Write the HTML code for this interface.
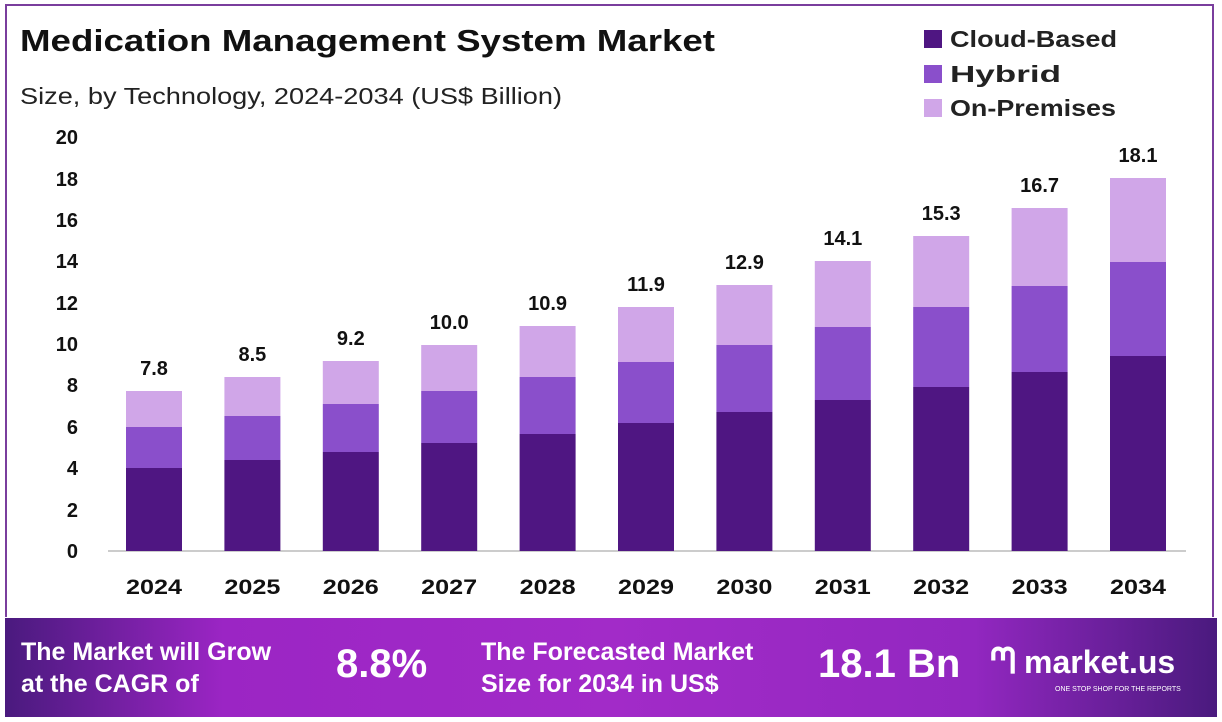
<!DOCTYPE html><html><head><style>
body{margin:0;width:1222px;height:722px;background:#fff;font-family:"Liberation Sans",sans-serif;overflow:hidden;position:relative}
.frame{position:absolute;left:5px;top:4px;width:1209px;height:613px;border:2px solid #7a3e9d;border-bottom:none;box-sizing:border-box}
.banner{position:absolute;left:5px;top:618px;width:1212px;height:99px;background:linear-gradient(90deg,#4a1a7e 0%,#9b25c4 18%,#a22bc8 50%,#9227c0 80%,#4a1a7e 100%);color:#fff;font-weight:bold}
.banner div{position:absolute}
</style></head><body>
<div class="frame"></div>
<svg width="1222" height="618" style="position:absolute;left:0;top:0" font-family="Liberation Sans, sans-serif">
<text x="20" y="51" font-size="31" font-weight="bold" fill="#111" textLength="695" lengthAdjust="spacingAndGlyphs">Medication Management System Market</text>
<text x="20" y="104" font-size="23" fill="#222" textLength="542" lengthAdjust="spacingAndGlyphs">Size, by Technology, 2024-2034 (US$ Billion)</text>
<rect x="924" y="30" width="18" height="18" fill="#4f1682"/><text x="950" y="47" font-size="23" font-weight="bold" fill="#222" textLength="167" lengthAdjust="spacingAndGlyphs">Cloud-Based</text>
<rect x="924" y="65" width="18" height="18" fill="#8a4fcb"/><text x="950" y="82" font-size="23" font-weight="bold" fill="#222" textLength="111" lengthAdjust="spacingAndGlyphs">Hybrid</text>
<rect x="924" y="99" width="18" height="18" fill="#d0a6e8"/><text x="950" y="116" font-size="23" font-weight="bold" fill="#222" textLength="166" lengthAdjust="spacingAndGlyphs">On-Premises</text>
<g font-size="20" font-weight="bold" fill="#111" text-anchor="end">
<text x="78" y="558">0</text><text x="78" y="517">2</text><text x="78" y="475">4</text><text x="78" y="434">6</text><text x="78" y="392">8</text><text x="78" y="351">10</text><text x="78" y="310">12</text><text x="78" y="268">14</text><text x="78" y="227">16</text><text x="78" y="186">18</text><text x="78" y="144">20</text>
</g>
<line x1="108" y1="551" x2="1186" y2="551" stroke="#ccc" stroke-width="2"/>
<g id="bars"></g>
</svg>
<div class="banner">
<div style="left:16px;top:18px;font-size:25px;line-height:32px">The Market will Grow<br>at the CAGR of</div>
<div style="left:331px;top:24px;font-size:40px">8.8%</div>
<div style="left:476px;top:18px;font-size:25px;line-height:32px">The Forecasted Market<br>Size for 2034 in US$</div>
<div style="left:813px;top:24px;font-size:40px">18.1 Bn</div>
<div style="left:985px;top:22px;font-size:36px;font-weight:bold">ᘉ<span style="font-size:32px;margin-left:8px">market.us</span></div>
<div style="left:1050px;top:68px;font-size:7px;font-weight:normal">ONE STOP SHOP FOR THE REPORTS</div>
</div>
<script>
var d=[[468,427,391,"7.8"],[460,416,377,"8.5"],[452,404,361,"9.2"],[443,391,345,"10.0"],[434,377,326,"10.9"],[423,362,307,"11.9"],[412,345,285,"12.9"],[400,327,261,"14.1"],[387,307,236,"15.3"],[372,286,208,"16.7"],[356,262,178,"18.1"]];
var s="";d.forEach(function(r,i){var c=154+i*98.4,x=c-28;
s+='<rect x="'+x+'" y="'+r[2]+'" width="56" height="'+(r[1]-r[2])+'" fill="#d0a6e8"/>';
s+='<rect x="'+x+'" y="'+r[1]+'" width="56" height="'+(r[0]-r[1])+'" fill="#8a4fcb"/>';
s+='<rect x="'+x+'" y="'+r[0]+'" width="56" height="'+(551-r[0])+'" fill="#4f1682"/>';
s+='<text x="'+c+'" y="'+(r[2]-16)+'" font-size="20" font-weight="bold" fill="#111" text-anchor="middle">'+r[3]+'</text>';
s+='<text x="'+c+'" y="594" font-size="21" font-weight="bold" fill="#111" text-anchor="middle" textLength="56" lengthAdjust="spacingAndGlyphs">'+(2024+i)+'</text>';});
document.getElementById("bars").innerHTML=s;
</script>
</body></html>
